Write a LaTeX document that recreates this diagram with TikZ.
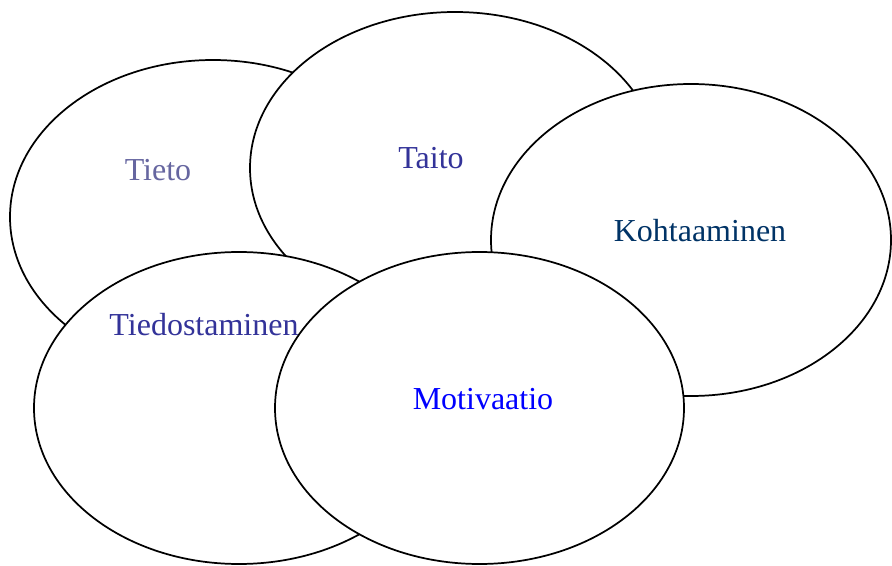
\documentclass[tikz,border=0pt]{standalone}
\usepackage{fontspec}
\setmainfont{Liberation Serif}
\usetikzlibrary{shapes.geometric}
\definecolor{tietocol}{RGB}{102,102,160}
\definecolor{taitocol}{RGB}{51,51,153}
\definecolor{kohtcol}{RGB}{0,51,102}
\definecolor{motcol}{RGB}{0,0,255}
\begin{document}
\begin{tikzpicture}[x=0.75pt, y=-0.75pt,
    kupla/.style={ellipse, draw, black, fill=white, line width=1.3pt, inner sep=0pt, minimum height=234pt},
    sana/.style={font=\fontsize{24}{28}\selectfont}]
        \useasboundingbox (0, 0) rectangle (892, 566);
        \draw (213, 217) node[kupla, minimum width=304.5pt, minimum height=235.5pt](tieto){}
        (455, 168) node[kupla, minimum width=307.5pt](taito){}
        (691, 240) node[kupla, minimum width=300pt](kohtaaminen){}
        (239, 408) node[kupla, minimum width=307.5pt](tiedostaminen){}
        (479.5, 408) node[kupla, minimum width=306.75pt](motivaatio){};
        
        \draw (158, 170) node[sana, tietocol](t1){Tieto}
        (431, 158) node[sana, taitocol](t2){Taito}
        (700, 231) node[sana, kohtcol](t3){Kohtaaminen}
        (204, 325) node[sana, taitocol](t4){Tiedostaminen}
        (483, 399) node[sana, motcol](t5){Motivaatio};
    \end{tikzpicture}
\end{document}
